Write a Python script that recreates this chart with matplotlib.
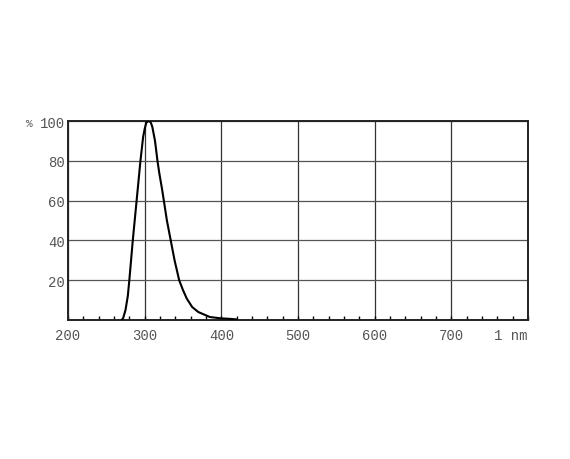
import numpy as np
from matplotlib import pyplot as plt

# wavelength (nm) and relative transmission (%)
wl = [270, 272, 275, 278, 280, 284.5, 289.5, 294.5, 298, 300, 302, 304, 306,
      308, 310, 313.5, 316.7, 319, 321, 323, 325, 329, 334, 339, 345, 350,
      355, 362, 370, 385, 400, 410, 420]
trans = [0, 1, 5, 12, 20, 40, 60, 80, 92, 96, 99, 99.8, 100,
         99.2, 97, 90, 80, 74, 69.5, 65, 60, 50, 40, 30, 20, 15,
         10.7, 6.5, 4, 1.5, 0.8, 0.6, 0.3]

xticks = [200, 300, 400, 500, 600, 700, 800]
xlabels = ['200', '300', '400', '500', '600', '700', '1 nm']
yticks = [20, 40, 60, 80, 100]
ylabels = ['20', '40', '60', '80', '100']

plt.rcParams['font.family'] = 'Liberation Mono'
fig = plt.figure(figsize=(5.7, 4.6), dpi=100)
ax = fig.add_axes([68/570, 1-321/460, 460/570, 199/460])

ax.plot(wl, trans, color='black', lw=1.5, zorder=3)

ax.set_xlim(200, 800)
ax.set_ylim(0, 100)
ax.set_xticks(xticks)
ax.set_xticklabels(xlabels)
ax.set_yticks(yticks)
ax.set_yticklabels(ylabels)
ax.set_xticks(np.arange(200, 801, 20), minor=True)

ax.grid(True, which='major', axis='x', color='#333333', lw=0.9)
ax.grid(True, which='major', axis='y', color='#555555', lw=0.9)
ax.tick_params(axis='x', which='both', direction='in', length=3, width=1,
               top=False, pad=6, labelsize=10, labelcolor='#555555')
ax.tick_params(axis='y', which='both', length=0, pad=2, labelsize=10,
               labelcolor='#555555')
for lab in ax.get_xticklabels():
    if lab.get_text() == '1 nm':
        lab.set_horizontalalignment('right')
for sp in ax.spines.values():
    sp.set_linewidth(1.4)
    sp.set_color('#222222')

fig.text(29/570, 1-124/460, '%', fontsize=8, color='#555555',
         ha='center', va='center')

fig.savefig('out.png', dpi=100)
